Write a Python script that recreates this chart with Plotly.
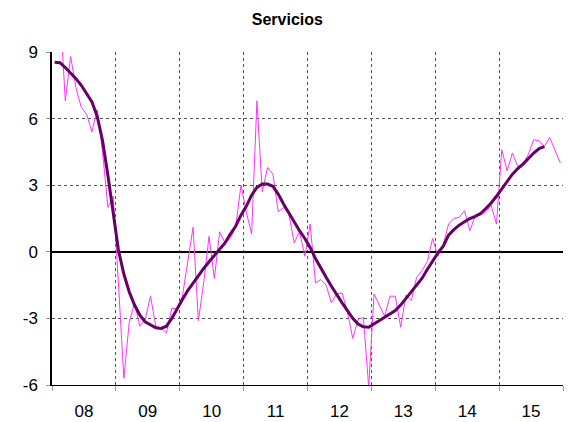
import plotly.graph_objects as go

years = ["08", "09", "10", "11", "12", "13", "14", "15"]

# Monthly series (Jan 2008 - Dec 2015)
servicios = [
    9.8, 11.0, 6.8, 8.8, 7.4, 6.5, 6.2, 5.4, 6.4, 4.5, 2.0, 2.5,          # 2008
    -1.5, -5.7, -3.2, -2.3, -3.35, -3.05, -2.0, -3.35, -3.45, -3.65, -2.55, -2.55,  # 2009
    -2.0, -0.4, 1.1, -3.1, -1.4, 0.7, -1.2, 0.9, 0.4, 0.6, 1.1, 3.0,      # 2010
    1.8, 0.8, 6.8, 2.7, 3.8, 3.5, 1.8, 2.0, 1.7, 0.4, 0.9, -0.2,          # 2011
    1.25, -1.4, -1.25, -1.5, -2.3, -1.9, -1.85, -2.7, -3.9, -3.05, -2.95, -6.1,  # 2012
    -1.9, -2.4, -2.9, -2.0, -2.0, -3.4, -1.95, -2.2, -1.15, -0.85, -0.45, 0.6,   # 2013
    -0.2, 0.3, 1.25, 1.5, 1.55, 1.85, 0.95, 1.6, 1.65, 1.8, 2.1, 1.25,    # 2014
    4.6, 3.65, 4.45, 3.85, 3.95, 4.4, 5.05, 5.0, 4.75, 5.15, 4.6, 4.0,    # 2015
]

# Trend (Jan 2008 - Sep 2015)
tendencia = [
    8.54, 8.52, 8.3, 8.05, 7.8, 7.5, 7.15, 6.75, 6.1, 5.0, 3.45, 1.7,
    0.05, -1.0, -1.8, -2.4, -2.85, -3.15, -3.3, -3.42, -3.45, -3.35, -3.0, -2.55,
    -2.15, -1.75, -1.4, -1.05, -0.75, -0.45, -0.15, 0.1, 0.4, 0.8, 1.15, 1.65,
    2.05, 2.55, 2.9, 3.05, 3.05, 2.95, 2.6, 2.15, 1.75, 1.3, 0.95, 0.6,
    0.2, -0.3, -0.75, -1.15, -1.55, -1.95, -2.3, -2.65, -3.0, -3.25, -3.38, -3.4,
    -3.25, -3.1, -2.95, -2.8, -2.65, -2.4, -2.1, -1.85, -1.55, -1.2, -0.8, -0.4,
    -0.05, 0.25, 0.75, 1.0, 1.2, 1.35, 1.5, 1.6, 1.72, 1.95, 2.2, 2.5,
    2.85, 3.2, 3.5, 3.75, 3.95, 4.2, 4.45, 4.65, 4.74,
]

x_serv = [i + 0.5 for i in range(len(servicios))]
x_tend = [i + 0.5 for i in range(len(tendencia))]

fig = go.Figure()
fig.add_trace(go.Scatter(x=x_serv, y=servicios, mode="lines",
                         line=dict(color="#ff33ff", width=1), showlegend=False))
fig.add_trace(go.Scatter(x=x_tend, y=tendencia, mode="lines",
                         line=dict(color="#660066", width=3), showlegend=False))

font = "Liberation Sans, Arial, sans-serif"
fig.update_layout(
    width=569, height=422,
    margin=dict(l=52, r=6, t=52, b=37),
    paper_bgcolor="white", plot_bgcolor="white",
    font=dict(family=font, size=16, color="black"),
    title=dict(text="<b>Servicios</b>", x=0.505, xanchor="center", y=0.953,
               yanchor="middle", font=dict(family=font, size=16)),
    xaxis=dict(
        range=[0, 96], automargin=False,
        tickvals=[6 + 12 * k for k in range(len(years))],
        ticktext=years,
        ticks="", showgrid=False, zeroline=False,
        showline=True, linecolor="black", linewidth=1,
        tickfont=dict(size=17), ticklabelstandoff=11,
        minor=dict(tickvals=[12 * k for k in range(9)], ticks="outside",
                   ticklen=5, tickcolor="#999999", showgrid=True,
                   gridcolor="#555555", griddash="dot", gridwidth=1),
    ),
    yaxis=dict(
        range=[-6, 9], automargin=False, tickvals=[-6, -3, 0, 3, 6, 9],
        ticktext=["-6", "-3", "0", "3", "6", "9"],
        ticks="outside", ticklen=4, tickcolor="#999999",
        ticklabelstandoff=5,
        showgrid=True, gridcolor="#555555", griddash="dot", gridwidth=1,
        zeroline=True, zerolinecolor="black", zerolinewidth=1.5,
        showline=True, linecolor="black", linewidth=1.5,
        tickfont=dict(size=17),
    ),
)

fig.write_html("out.html", config={"displayModeBar": False},
               post_script="document.body.style.margin='0';document.body.style.overflow='hidden';")
